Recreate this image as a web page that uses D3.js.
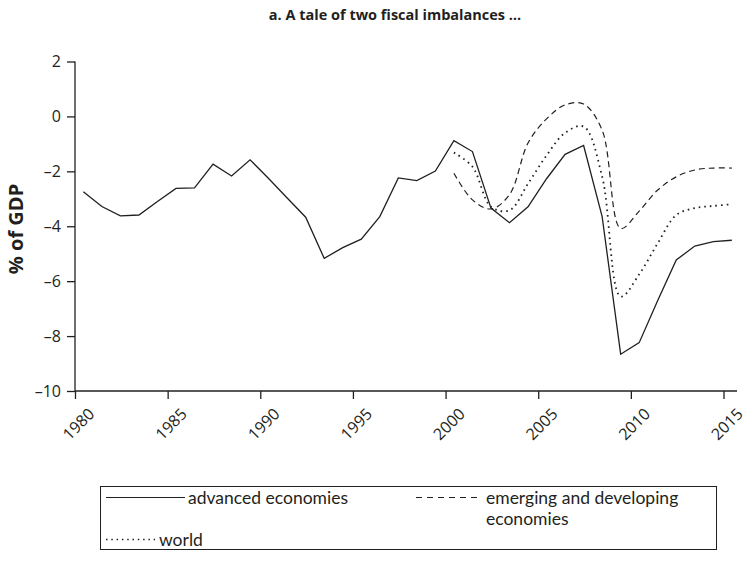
<!DOCTYPE html>
<html>
<head>
<meta charset="utf-8">
<script src="https://cdn.jsdelivr.net/npm/d3@7"></script>
<style>
  body { margin: 0; background: #fff; }
  svg { display: block; }
  text { font-family: "Open Sans", "Noto Sans", sans-serif; fill: #231f20; }
</style>
</head>
<body>
<svg id="chart" width="746" height="562"></svg>
<script>
// ---- data ----
const years = d3.range(1980, 2016);
const advanced = [-2.74, -3.28, -3.62, -3.59, -3.10, -2.62, -2.60, -1.74, -2.17, -1.58,
                  -2.26, -2.97, -3.67, -5.17, -4.78, -4.47, -3.65, -2.24, -2.34, -1.99,
                  -0.88, -1.28, -3.34, -3.87, -3.29, -2.27, -1.38, -1.06, -3.65, -8.66,
                  -8.24, -6.70, -5.23, -4.72, -4.56, -4.51];
const emergingYears = d3.range(2000, 2016);
const emerging = [-2.07, -3.04, -3.37, -2.85, -0.97, -0.09, 0.42, 0.45, -0.50, -4.08,
                  -3.45, -2.68, -2.20, -1.95, -1.88, -1.88];
const worldYears = d3.range(2000, 2016);
const world = [-1.32, -1.83, -3.29, -3.42, -2.45, -1.42, -0.60, -0.37, -2.19, -6.56,
               -5.75, -4.62, -3.59, -3.34, -3.26, -3.20];
const xTicks = [1980, 1985, 1990, 1995, 2000, 2005, 2010, 2015];
const yTicks = [-10, -8, -6, -4, -2, 0, 2];
const title = "a. A tale of two fiscal imbalances \u2026";
const yLabel = "% of GDP";
const legendLabels = ["advanced economies", "emerging and developing", "economies", "world"];

// ---- layout ----
const svg = d3.select("#chart");
const x = d3.scaleLinear().domain([1980, 2015]).range([75, 723.5]);
const y = d3.scaleLinear().domain([-10, 2]).range([391, 61.5]);
const offset = 0.45; // annual points plotted mid-year
const ink = "#231f20";

svg.append("text")
  .attr("x", 395).attr("y", 20)
  .attr("text-anchor", "middle")
  .style("font-weight", "bold").style("font-size", "14.5px")
  .text(title);

// y axis
const yAxis = svg.append("g").attr("transform", "translate(75,0)")
  .call(d3.axisLeft(y).tickValues(yTicks).tickSize(8).tickPadding(6)
        .tickFormat(d => d < 0 ? "\u2013" + Math.abs(d) : d));
yAxis.select(".domain").attr("d", `M0,${y(2)}V${y(-10)}`);
yAxis.selectAll("line, path").attr("stroke", ink).attr("stroke-width", 1.3);
yAxis.selectAll("text").style("font-size", "16px").attr("fill", ink);

// x axis
const xAxis = svg.append("g").attr("transform", `translate(0,${y(-10)})`)
  .call(d3.axisBottom(x).tickValues(xTicks).tickSize(8).tickFormat(d3.format("d")));
xAxis.select(".domain").attr("d", `M${x(1980)},0H737`);
xAxis.selectAll("line, path").attr("stroke", ink).attr("stroke-width", 1.3);
xAxis.selectAll("text")
  .style("font-size", "16px").attr("fill", ink)
  .attr("text-anchor", "middle")
  .attr("y", 0).attr("dy", "0.35em")
  .attr("transform", "translate(3,33) rotate(-45)");

svg.append("text")
  .attr("transform", `translate(23,229) rotate(-90)`)
  .attr("text-anchor", "middle")
  .style("font-weight", "bold").style("font-size", "20px")
  .text(yLabel);

// lines
const lineLin = d3.line().x(d => x(d[0] + offset)).y(d => y(d[1]));
const lineSmooth = d3.line().curve(d3.curveCatmullRom.alpha(0.5))
  .x(d => x(d[0] + offset)).y(d => y(d[1]));

svg.append("path")
  .attr("d", lineSmooth(emergingYears.map((yr, i) => [yr, emerging[i]])))
  .attr("fill", "none").attr("stroke", ink).attr("stroke-width", 1.2)
  .attr("stroke-dasharray", "6,4");

svg.append("path")
  .attr("d", lineSmooth(worldYears.map((yr, i) => [yr, world[i]])))
  .attr("fill", "none").attr("stroke", ink).attr("stroke-width", 1.8)
  .attr("stroke-dasharray", "1.6,4");

svg.append("path")
  .attr("d", lineLin(years.map((yr, i) => [yr, advanced[i]])))
  .attr("fill", "none").attr("stroke", ink).attr("stroke-width", 1.3)
  .attr("stroke-linejoin", "miter");

// legend
const lg = svg.append("g");
lg.append("rect").attr("x", 100.5).attr("y", 486.5).attr("width", 616).attr("height", 63)
  .attr("fill", "none").attr("stroke", ink).attr("stroke-width", 1);
lg.append("line").attr("x1", 106).attr("x2", 185).attr("y1", 497.5).attr("y2", 497.5)
  .attr("stroke", ink).attr("stroke-width", 1.2);
lg.append("line").attr("x1", 416).attr("x2", 479).attr("y1", 497.5).attr("y2", 497.5)
  .attr("stroke", ink).attr("stroke-width", 1.2).attr("stroke-dasharray", "6,5");
lg.append("line").attr("x1", 106).attr("x2", 155).attr("y1", 539.5).attr("y2", 539.5)
  .attr("stroke", ink).attr("stroke-width", 1.6).attr("stroke-dasharray", "1.5,3.8");
const lt = [[188, 504, 0], [486, 504, 1], [486, 525, 2], [159, 546, 3]];
lg.selectAll("text.lt").data(lt).join("text").attr("class", "lt")
  .attr("x", d => d[0]).attr("y", d => d[1])
  .style("font-family", "Lato, 'Open Sans', sans-serif")
  .style("font-size", "17.5px")
  .text(d => legendLabels[d[2]]);
</script>
</body>
</html>
